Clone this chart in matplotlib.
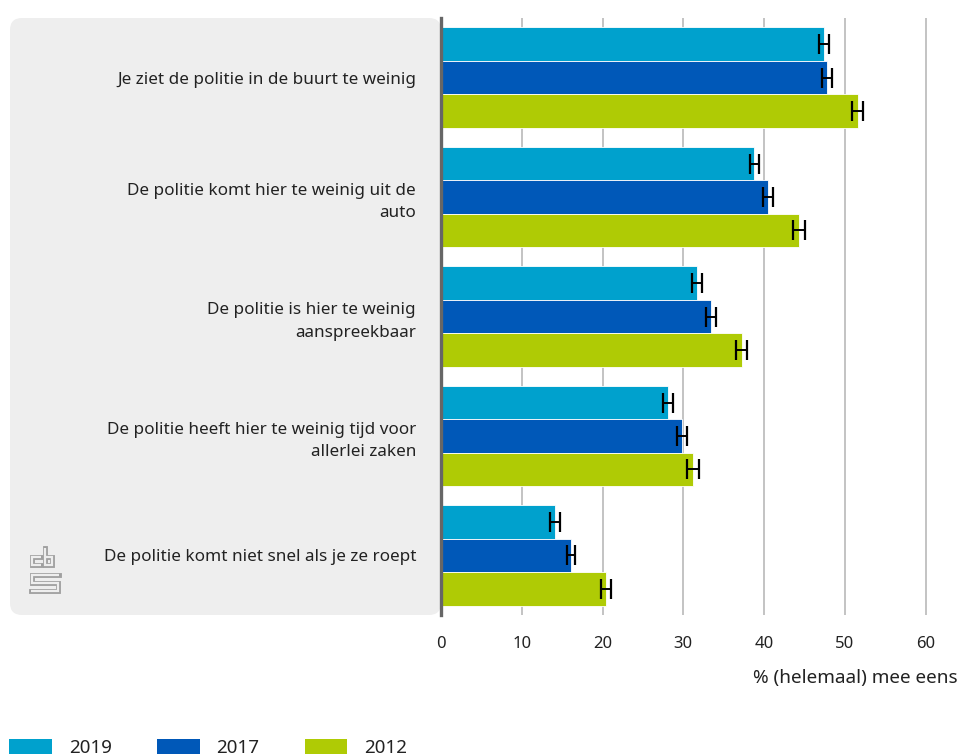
import matplotlib
matplotlib.use("Agg")
import matplotlib.pyplot as plt
import numpy as np
from matplotlib.patches import FancyBboxPatch, Patch
from matplotlib.lines import Line2D

plt.rcParams['font.family'] = ['Noto Sans', 'DejaVu Sans']

categories = [
    "Je ziet de politie in de buurt te weinig",
    "De politie komt hier te weinig uit de\nauto",
    "De politie is hier te weinig\naanspreekbaar",
    "De politie heeft hier te weinig tijd voor\nallerlei zaken",
    "De politie komt niet snel als je ze roept",
]
years = ["2019", "2017", "2012"]
v2019 = [47.4, 38.8, 31.7, 28.1, 14.1]
v2017 = [47.8, 40.5, 33.4, 29.8, 16.1]
v2012 = [51.6, 44.3, 37.2, 31.2, 20.4]
e2019 = [0.6, 0.6, 0.6, 0.6, 0.6]
e2017 = [0.6, 0.6, 0.6, 0.6, 0.5]
e2012 = [0.7, 0.7, 0.7, 0.7, 0.6]
colors = ["#00a1cd", "#0058b8", "#afcb05"]
xticks = [0, 10, 20, 30, 40, 50, 60]
xlabel = "% (helemaal) mee eens"

W, H = 961, 756
fig = plt.figure(figsize=(W / 100, H / 100), dpi=100)

# grey background panel (inches coords)
panel = FancyBboxPatch((10 / 100, (H - 615) / 100), (441 - 10) / 100, (615 - 18) / 100,
                       boxstyle="round,pad=0,rounding_size=0.12",
                       transform=fig.dpi_scale_trans, facecolor="#eeeeee",
                       edgecolor="none", zorder=-5)
fig.patches.append(panel)

ax = fig.add_axes([441 / W, (H - 615) / H, 517 / W, 597 / H])
ax.set_facecolor("none")
ax.set_xlim(0, 64)
ax.set_ylim(4.498, -0.498)

y = np.arange(len(categories))
bh = 0.279
series = [(v2019, e2019), (v2017, e2017), (v2012, e2012)]
for k, ((vals, errs), c, yr) in enumerate(zip(series, colors, years)):
    pos = y + (k - 1) * bh
    ax.barh(pos, vals, height=bh, color=c, edgecolor="white", linewidth=0.6,
            zorder=2, label=yr)
    ax.errorbar(vals, pos, xerr=errs, fmt="none", ecolor="black",
                elinewidth=1.4, capsize=7.5, capthick=1.6, zorder=3)

ax.set_xticks(xticks)
ax.set_xticklabels([str(t) for t in xticks], fontsize=12, color="#222222")
ax.grid(axis="x", color="#b9b9b9", linewidth=1.2, zorder=1)
ax.tick_params(axis="x", length=0, pad=15)
ax.set_yticks(y)
ax.set_yticklabels(categories, fontsize=12.3, color="#222222", linespacing=1.52)
ax.tick_params(axis="y", length=0, pad=18)
for s in ["top", "right", "bottom"]:
    ax.spines[s].set_visible(False)
ax.spines["left"].set_color("#666666")
ax.spines["left"].set_linewidth(2.4)
ax.spines["left"].set_zorder(5)
ax.set_xlabel(xlabel, loc="right", fontsize=13.6, color="#222222", labelpad=12)

# CBS logo approximation (outlined strokes)
def px(xs, ys):
    return [x / 100 for x in xs], [(H - yy) / 100 for yy in ys]

logo_paths = [
    ([41, 31.5, 31.5, 41], [557, 557, 564.5, 564.5]),
    ([44.5, 44.5, 52, 52, 44.5], [547.5, 564.5, 564.5, 557, 557]),
    ([58.5, 31.5, 31.5, 58, 58, 31], [574.5, 574.5, 582.5, 582.5, 590.5, 590.5]),
]
for xs, ys in logo_paths:
    lx, ly = px(xs, ys)
    fig.lines.append(Line2D(lx, ly, transform=fig.dpi_scale_trans, color="#a0a0a0",
                            linewidth=3.5, solid_joinstyle="miter", solid_capstyle="projecting"))
    fig.lines.append(Line2D(lx, ly, transform=fig.dpi_scale_trans, color="#eeeeee",
                            linewidth=1.6, solid_joinstyle="miter", solid_capstyle="butt"))

handles = [Patch(facecolor=c, edgecolor="none") for c in colors]
fig.legend(handles, years, loc="upper left", bbox_to_anchor=(9 / W, 17 / H),
           ncol=3, frameon=False, fontsize=13.5, handlelength=2.29, handleheight=0.85,
           handletextpad=0.9, columnspacing=2.4, borderpad=0, borderaxespad=0,
           labelcolor="#222222")

fig.savefig("out.png", dpi=100)
